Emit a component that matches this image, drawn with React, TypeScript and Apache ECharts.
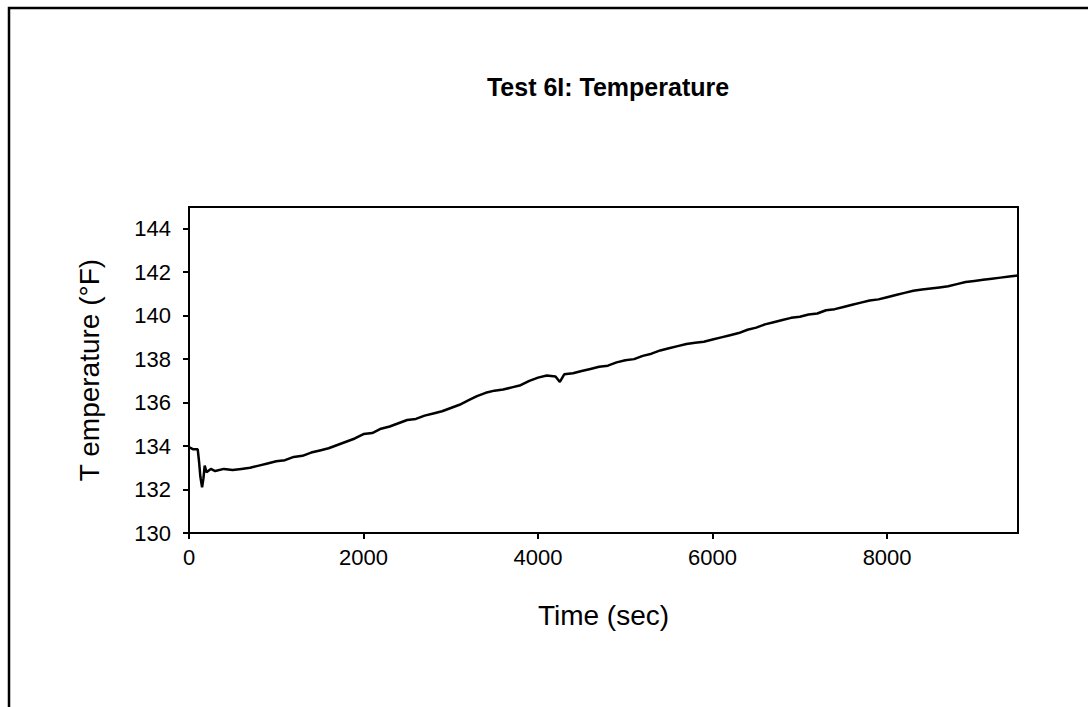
import React, { useEffect, useRef } from "react";
import * as echarts from "echarts";

const timeSec = [
  0, 50, 100, 115, 130, 150, 165, 180, 200, 250, 300, 400, 500, 600, 700, 800, 900,
  1000, 1100, 1200, 1300, 1400, 1500, 1600, 1700, 1800, 1900, 2000, 2100, 2200, 2300,
  2400, 2500, 2600, 2700, 2800, 2900, 3000, 3100, 3200, 3300, 3400, 3500, 3600, 3700,
  3800, 3900, 4000, 4100, 4200, 4250, 4300, 4400, 4500, 4600, 4700, 4800, 4900, 5000,
  5100, 5200, 5300, 5400, 5500, 5600, 5700, 5800, 5900, 6000, 6100, 6200, 6300, 6400,
  6500, 6600, 6700, 6800, 6900, 7000, 7100, 7200, 7300, 7400, 7500, 7600, 7700, 7800,
  7900, 8000, 8100, 8200, 8300, 8400, 8500, 8600, 8700, 8800, 8900, 9000, 9100, 9200,
  9300, 9400, 9500,
];

const temperatureF = [
  133.95, 133.85, 133.85, 133.3, 132.6, 132.1, 132.5, 133.1, 132.8, 132.95, 132.85,
  132.95, 132.9, 132.95, 133.0, 133.1, 133.2, 133.3, 133.35, 133.5, 133.55, 133.7,
  133.8, 133.9, 134.05, 134.2, 134.35, 134.55, 134.6, 134.8, 134.9, 135.05, 135.2,
  135.25, 135.4, 135.5, 135.6, 135.75, 135.9, 136.1, 136.3, 136.45, 136.55, 136.6,
  136.7, 136.8, 137.0, 137.15, 137.25, 137.2, 136.95, 137.3, 137.35, 137.45, 137.55,
  137.65, 137.7, 137.85, 137.95, 138.0, 138.15, 138.25, 138.4, 138.5, 138.6, 138.7,
  138.75, 138.8, 138.9, 139.0, 139.1, 139.2, 139.35, 139.45, 139.6, 139.7, 139.8,
  139.9, 139.95, 140.05, 140.1, 140.25, 140.3, 140.4, 140.5, 140.6, 140.7, 140.75,
  140.85, 140.95, 141.05, 141.15, 141.2, 141.25, 141.3, 141.35, 141.45, 141.55, 141.6,
  141.65, 141.7, 141.75, 141.8, 141.85,
];

const chartTitle = "Test 6I: Temperature";
const xAxisTitle = "Time (sec)";
const yAxisTitle = "T emperature (°F)";

export default function App() {
  const ref = useRef<HTMLDivElement>(null);
  useEffect(() => {
    if (!ref.current) return;
    const chart = echarts.init(ref.current, null, { renderer: "svg" });
    const font = "Arial, 'Liberation Sans', sans-serif";
    chart.setOption({
      animation: false,
      backgroundColor: "#fff",
      title: {
        text: chartTitle,
        left: 603,
        textAlign: "center",
        top: 69,
        textStyle: { fontFamily: font, fontSize: 25, fontWeight: "bold", color: "#000" },
      },
      graphic: [
        {
          type: "rect",
          shape: { x: 9, y: 8, width: 1200, height: 800 },
          style: { fill: "none", stroke: "#000", lineWidth: 2.5 },
          silent: true,
        },
      ],
      grid: {
        left: 189,
        top: 207,
        width: 829,
        height: 326,
        show: true,
        borderColor: "#000",
        borderWidth: 2,
        backgroundColor: "transparent",
      },
      xAxis: {
        type: "value",
        min: 0,
        max: 9500,
        interval: 2000,
        name: xAxisTitle,
        nameLocation: "middle",
        nameGap: 68,
        nameTextStyle: { fontFamily: font, fontSize: 28, color: "#000" },
        axisLine: { show: true, lineStyle: { color: "#000", width: 2 } },
        axisTick: { show: true, inside: false, length: 6, lineStyle: { color: "#000", width: 2 } },
        axisLabel: {
          fontFamily: font,
          fontSize: 22,
          color: "#000",
          margin: 13,
          showMaxLabel: false,
          formatter: (v: number) => String(v),
        },
        splitLine: { show: false },
      },
      yAxis: {
        type: "value",
        min: 130,
        max: 145,
        interval: 2,
        name: yAxisTitle,
        nameLocation: "middle",
        nameGap: 86,
        nameRotate: 90,
        nameTextStyle: { fontFamily: font, fontSize: 28, color: "#000" },
        axisLine: { show: true, lineStyle: { color: "#000", width: 2 } },
        axisTick: { show: true, inside: false, length: 6, lineStyle: { color: "#000", width: 2 } },
        axisLabel: {
          fontFamily: font,
          fontSize: 22,
          color: "#000",
          margin: 18,
          showMaxLabel: false,
          formatter: (v: number) => String(v),
        },
        splitLine: { show: false },
      },
      series: [
        {
          type: "line",
          data: timeSec.map((t, i) => [t, temperatureF[i]]),
          showSymbol: false,
          symbol: "none",
          lineStyle: { color: "#000", width: 2.5 },
        },
      ],
    });
    return () => chart.dispose();
  }, []);
  return (
    <div
      ref={ref}
      style={{ position: "fixed", left: 0, top: 0, width: 1088, height: 707 }}
    />
  );
}
